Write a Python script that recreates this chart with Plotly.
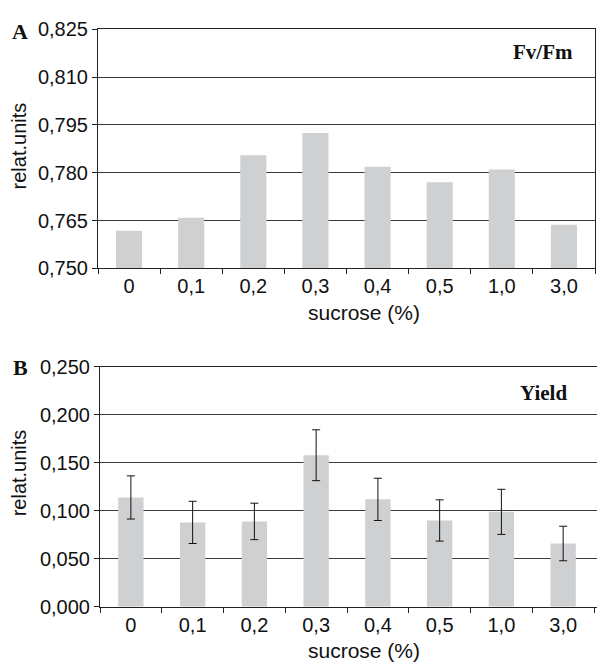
import plotly.graph_objects as go

categories = ["0", "0,1", "0,2", "0,3", "0,4", "0,5", "1,0", "3,0"]
fvfm = [0.7618, 0.7659, 0.7855, 0.7925, 0.7819, 0.7770, 0.7810, 0.7637]
yield_vals = [0.114, 0.088, 0.089, 0.158, 0.112, 0.090, 0.099, 0.066]
yield_err = [0.0225, 0.022, 0.019, 0.0265, 0.022, 0.0215, 0.0235, 0.018]

W, H = 597, 672
BAR = "#cfd0d2"
FONT = "Liberation Sans, Arial, sans-serif"
SERIF = "Liberation Serif, Times New Roman, serif"

fig = go.Figure()
fig.add_trace(go.Bar(x=categories, y=fvfm, marker=dict(color=BAR, line=dict(width=0)),
                     width=0.42, xaxis="x", yaxis="y", showlegend=False))
fig.add_trace(go.Bar(x=categories, y=yield_vals, marker=dict(color=BAR, line=dict(width=0)),
                     width=0.41, xaxis="x2", yaxis="y2", showlegend=False,
                     error_y=dict(type="data", array=yield_err, visible=True,
                                  color="#111111", thickness=1, width=4)))

def px_x(p):
    return p / W

def px_y(p):
    return 1 - p / H

tickfont = dict(family=FONT, size=20, color="#111111")
common_x = dict(type="category", tickson="boundaries", ticks="outside", ticklen=5,
                tickcolor="#222222", showline=True, linecolor="#222222", linewidth=1,
                showgrid=False, tickfont=tickfont, fixedrange=True)
common_y = dict(ticks="outside", ticklen=5, tickcolor="#222222", showline=True,
                linecolor="#222222", linewidth=1, showgrid=True, gridcolor="#3a3a3a",
                gridwidth=1, tickfont=tickfont, zeroline=False, tickformat=".3f")

fig.update_layout(
    width=W, height=H, margin=dict(l=0, r=0, t=0, b=0),
    paper_bgcolor="white", plot_bgcolor="white", separators=",.",
    bargap=0.5,
    xaxis=dict(common_x, domain=[px_x(98), px_x(595)], range=[-0.5, 7.5],
               anchor="y", mirror=True),
    yaxis=dict(common_y, domain=[px_y(266), px_y(19)], range=[0.750, 0.825],
               tick0=0.750, dtick=0.015, anchor="x", mirror=True),
    xaxis2=dict(common_x, domain=[px_x(100), 1.0], range=[-0.5, 7.548],
                anchor="y2", mirror=True),
    yaxis2=dict(common_y, domain=[px_y(616), px_y(368)], range=[0, 0.25],
                tick0=0, dtick=0.05, anchor="x2"),
)

ann = []
ttl = dict(family=FONT, size=20, color="#111111")
xttl = dict(family=FONT, size=21, color="#111111")
ann.append(dict(text="relat.units", x=px_x(19), y=px_y(140), xref="paper", yref="paper",
                textangle=-90, showarrow=False, font=ttl, xanchor="center", yanchor="middle"))
ann.append(dict(text="relat.units", x=px_x(19), y=px_y(478), xref="paper", yref="paper",
                textangle=-90, showarrow=False, font=ttl, xanchor="center", yanchor="middle"))
ann.append(dict(text="sucrose (%)", x=px_x(364), y=px_y(312), xref="paper", yref="paper",
                showarrow=False, font=xttl, xanchor="center", yanchor="middle"))
ann.append(dict(text="sucrose (%)", x=px_x(364), y=px_y(661), xref="paper", yref="paper",
                showarrow=False, font=xttl, xanchor="center", yanchor="middle"))
bold = dict(family=SERIF, size=22, color="#111111")
ann.append(dict(text="<b>A</b>", x=px_x(20), y=px_y(21), xref="paper", yref="paper",
                showarrow=False, font=bold, xanchor="center", yanchor="middle"))
ann.append(dict(text="<b>B</b>", x=px_x(20), y=px_y(369), xref="paper", yref="paper",
                showarrow=False, font=bold, xanchor="center", yanchor="middle"))
ann.append(dict(text="<b>Fv/Fm</b>", x=px_x(543), y=px_y(42), xref="paper", yref="paper",
                showarrow=False, font=dict(bold, size=21), xanchor="center", yanchor="middle"))
ann.append(dict(text="<b>Yield</b>", x=px_x(543), y=px_y(395), xref="paper", yref="paper",
                showarrow=False, font=dict(bold, size=21), xanchor="center", yanchor="middle"))
fig.update_layout(annotations=ann)

js = ("var s=document.documentElement.style;s.margin='0';s.padding='0';s.overflow='hidden';"
      "var b=document.body.style;b.margin='0';b.padding='0';b.overflow='hidden';"
      "var d=document.getElementById('{plot_id}');d.style.position='fixed';"
      "d.style.left='0px';d.style.top='0px';")
fig.write_html("out.html", config=dict(displayModeBar=False), post_script=js)
